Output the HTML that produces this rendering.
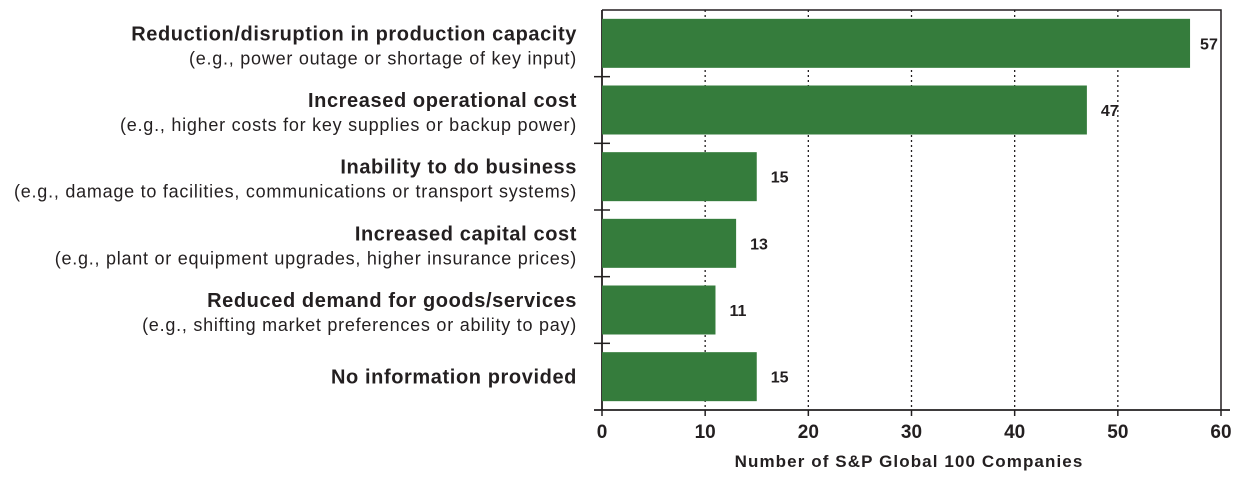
<!DOCTYPE html>
<html><head><meta charset="utf-8"><style>
body{margin:0;background:#fff;}
svg text{font-family:"Liberation Sans",sans-serif;fill:#231f20;}
</style></head><body>
<svg width="1248" height="482" id="c"></svg>
<script>
const categories=["Reduction/disruption in production capacity","Increased operational cost","Inability to do business","Increased capital cost","Reduced demand for goods/services","No information provided"];
const subtitles=["(e.g., power outage or shortage of key input)","(e.g., higher costs for key supplies or backup power)","(e.g., damage to facilities, communications or transport systems)","(e.g., plant or equipment upgrades, higher insurance prices)","(e.g., shifting market preferences or ability to pay)",""];
const values=[57,47,15,13,11,15];
const ticks=[0,10,20,30,40,50,60];
const svg=document.getElementById('c');const NS="http://www.w3.org/2000/svg";
const L=602,R=1221,T=10,B=410;
const x=v=>L+(R-L)*v/60;
const band=(B-T)/categories.length;
const y=i=>T+band*i;
function mk(tag,a,p){const e=document.createElementNS(NS,tag);for(const k in a)e.setAttribute(k,a[k]);(p||svg).appendChild(e);return e;}
ticks.forEach(t=>{
 if(t>0&&t<60){const g=mk('line',{x1:x(t),x2:x(t),y1:T,y2:B,stroke:'#231f20','stroke-width':1.3,'stroke-dasharray':'2,3'});
 }
 const tk=mk('line',{x1:x(t),x2:x(t),y1:B,y2:B+6,stroke:'#231f20','stroke-width':1.5});
 
 const tl=mk('text',{x:x(t),y:B+28,'text-anchor':'middle','font-size':19,'font-weight':'bold'});tl.textContent=t;
 
});
const fr=mk('path',{d:`M${L} ${T}H${R}V${B}`,fill:'none',stroke:'#231f20','stroke-width':1.5});

const ax=mk('line',{x1:594,x2:1230,y1:B,y2:B,stroke:'#231f20','stroke-width':1.8});

const ay=mk('line',{x1:L,x2:L,y1:T,y2:B,stroke:'#231f20','stroke-width':1.8});

categories.forEach((c,i)=>{
 if(i>0){const s=mk('line',{x1:594,x2:610,y1:y(i),y2:y(i),stroke:'#231f20','stroke-width':1.5});
 }
 const cy=y(i)+band/2;
 const b=mk('rect',{x:L,y:cy-24.5,width:x(values[i])-L,height:49,fill:'#357c3c'});
 
 const v=mk('text',{x:x(values[i])+10+(values[i]<50?4:0),y:cy+6,'font-size':16,'font-weight':'bold'});v.textContent=values[i];
 
 const sub=subtitles[i];
 const t=mk('text',{x:577,y:sub?cy-3:cy+7,'text-anchor':'end','font-size':20,'font-weight':'bold','letter-spacing':0.6});t.textContent=c;
 
 if(sub){const s=mk('text',{x:577,y:cy+21,'text-anchor':'end','font-size':18,'letter-spacing':0.75});s.textContent=sub;
 }
});
const at=mk('text',{x:909,y:467,'text-anchor':'middle','font-size':17,'font-weight':'bold','letter-spacing':1.1});at.textContent="Number of S&P Global 100 Companies";

</script>
</body></html>
